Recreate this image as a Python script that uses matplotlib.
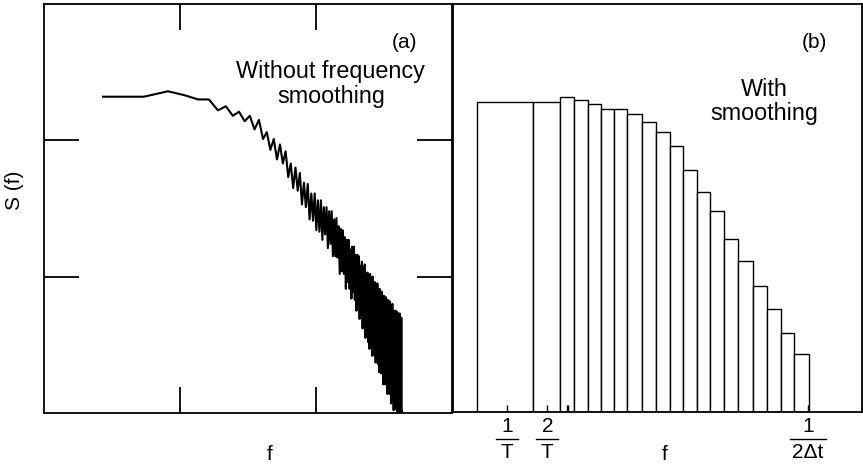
import numpy as np
import matplotlib
matplotlib.use('Agg')
import matplotlib.pyplot as plt
from matplotlib.ticker import NullLocator
from matplotlib.lines import Line2D

plt.rcParams['font.family'] = ['Liberation Sans', 'DejaVu Sans']

# (a) raw spectrum, log10 S at harmonics k/T, k = 1..158
spec_log = [
    -0.68, -0.68, -0.64, -0.67, -0.70, -0.70, -0.78, -0.75, -0.82, -0.79,
    -0.86, -0.82, -0.92, -0.85, -0.99, -0.94, -1.07, -0.99, -1.14, -1.03,
    -1.17, -1.08, -1.27, -1.17, -1.35, -1.20, -1.37, -1.24, -1.47, -1.31,
    -1.49, -1.32, -1.58, -1.39, -1.59, -1.39, -1.66, -1.44, -1.67, -1.44,
    -1.73, -1.49, -1.69, -1.49, -1.79, -1.52, -1.76, -1.52, -1.85, -1.58,
    -1.85, -1.57, -1.86, -1.63, -1.98, -1.65, -1.96, -1.66, -1.98, -1.71,
    -2.09, -1.73, -2.04, -1.73, -2.09, -1.80, -2.16, -1.78, -2.11, -1.78,
    -2.17, -1.84, -2.25, -1.84, -2.20, -1.85, -2.31, -1.92, -2.28, -1.89,
    -2.38, -1.93, -2.34, -1.91, -2.45, -1.98, -2.42, -1.97, -2.48, -2.01,
    -2.53, -1.98, -2.45, -2.03, -2.58, -2.00, -2.52, -2.08, -2.58, -2.04,
    -2.63, -2.08, -2.56, -2.05, -2.64, -2.13, -2.70, -2.09, -2.63, -2.14,
    -2.71, -2.11, -2.65, -2.18, -2.79, -2.14, -2.72, -2.18, -2.79, -2.15,
    -2.73, -2.22, -2.86, -2.17, -2.80, -2.25, -2.86, -2.18, -2.79, -2.24,
    -2.93, -2.23, -2.84, -2.20, -2.91, -2.30, -2.98, -2.25, -2.89, -2.29,
    -2.97, -2.25, -2.88, -2.32, -2.99, -2.26, -2.96, -2.32, -2.99, -2.31,
    -2.95, -2.27, -3.00, -2.34, -2.96, -2.30, -2.99, -2.99,
]
harmonic = np.arange(1, len(spec_log) + 1)

# (b) band-averaged spectrum, band edges in units of 1/T
band_edges = [0.6, 1.57, 2.48, 3.17, 3.98, 5.0, 6.23, 7.82, 10.0, 12.8, 16.2,
              20.3, 25.5, 32.1, 40.7, 52.0, 66.4, 84.3, 107, 135, 173]
band_log = [-0.718, -0.718, -0.682, -0.706, -0.738, -0.770, -0.770, -0.811,
            -0.865, -0.943, -1.042, -1.221, -1.385, -1.524, -1.728, -1.890,
            -2.071, -2.243, -2.417, -2.576]
tick_pos = [1, 2, 2.78, 2.86, 170]
frac_ticks = [1, 2, 170]
frac_num = ['1', '2', '1']
frac_den = ['T', 'T', '2\u0394t']

W, H = 863, 467
fig = plt.figure(figsize=(W / 100, H / 100), dpi=100)
axL = fig.add_axes([44 / W, (H - 413) / H, 408 / W, 409 / H])
axR = fig.add_axes([453 / W, (H - 412) / H, 409 / W, 408 / H])

ymin = 1e-3
for ax in (axL, axR):
    ax.set_xscale('log')
    ax.set_yscale('log')
    ax.set_ylim(ymin, 1)
    for s in ax.spines.values():
        s.set_linewidth(1.3)
    ax.xaxis.set_minor_locator(NullLocator())
    ax.yaxis.set_minor_locator(NullLocator())

# left panel
axL.plot(harmonic, 10 ** np.array(spec_log), color='black', lw=1.5)
axL.set_xlim(0.368, 368)
axL.set_xticks([3.68, 36.8])
axL.set_yticks([1e-2, 1e-1])
axL.tick_params(axis='x', direction='in', length=18.5, width=1.3,
                top=True, bottom=True, labelbottom=False)
axL.tick_params(axis='y', direction='in', length=25, width=1.3,
                left=True, right=True, labelleft=False)
axL.text(0.884, 0.905, '(a)', transform=axL.transAxes, ha='center',
         va='center', fontsize=15)
axL.text(0.703, 0.804, 'Without frequency\nsmoothing', transform=axL.transAxes,
         ha='center', va='center', fontsize=16.8, linespacing=1.12)

# right panel
edges = np.array(band_edges)
heights = 10 ** np.array(band_log) - ymin
axR.bar(edges[:-1], heights, width=np.diff(edges), align='edge', bottom=ymin,
        facecolor='white', edgecolor='black', linewidth=1.0)
axR.set_xlim(0.40, 428.5)
axR.set_yticks([])
axR.set_xticks(tick_pos)
axR.set_xticklabels([])
axR.tick_params(axis='x', direction='in', length=5, width=1.0)
axR.text(0.884, 0.905, '(b)', transform=axR.transAxes, ha='center',
         va='center', fontsize=15)
axR.text(0.760, 0.762, 'With\nsmoothing', transform=axR.transAxes,
         ha='center', va='center', fontsize=16.8, linespacing=1.05)

# fraction-style tick labels under panel (b)
for xv, num, den in zip(frac_ticks, frac_num, frac_den):
    px = axR.transData.transform((xv, ymin))[0]
    half = 11 if len(den) == 1 else 18
    fig.text(px / W, 1 - 427 / H, num, ha='center', va='center', fontsize=15)
    fig.text(px / W, 1 - 453 / H, den, ha='center', va='center', fontsize=15)
    fig.add_artist(Line2D([(px - half) / W, (px + half) / W],
                          [1 - 439 / H, 1 - 439 / H], color='black', lw=1.0,
                          transform=fig.transFigure))

fig.text(14 / W, 1 - 190 / H, 'S (f)', rotation=90, ha='center',
         va='center', fontsize=15)
fig.text(270 / W, 1 - 455 / H, 'f', ha='center', va='center', fontsize=15)
fig.text(665 / W, 1 - 455 / H, 'f', ha='center', va='center', fontsize=15)

fig.savefig('out.png', dpi=100)
